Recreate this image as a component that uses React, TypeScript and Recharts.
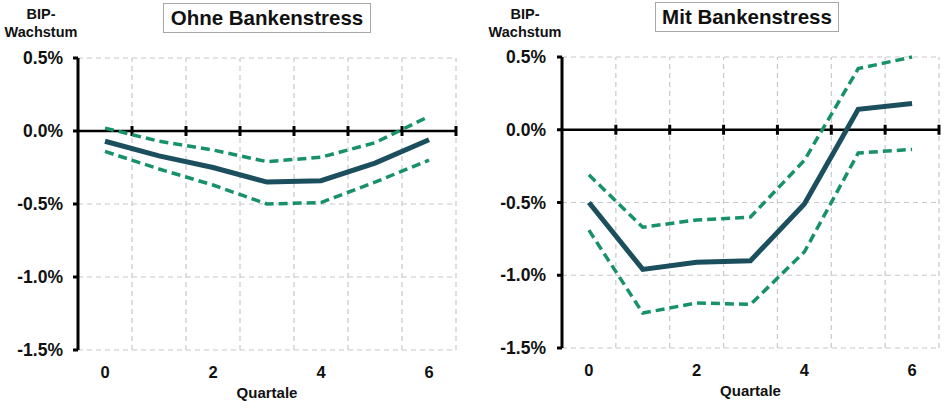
import React from 'react';
import { LineChart, Line, XAxis, YAxis, CartesianGrid, ReferenceLine, ReferenceDot } from 'recharts';

const quarters = [0, 1, 2, 3, 4, 5, 6];
const ohneMain = [-0.07, -0.17, -0.25, -0.35, -0.34, -0.22, -0.06];
const ohneUpper = [0.02, -0.07, -0.13, -0.21, -0.18, -0.08, 0.1];
const ohneLower = [-0.14, -0.26, -0.37, -0.5, -0.49, -0.35, -0.2];
const mitMain = [-0.5, -0.96, -0.91, -0.9, -0.51, 0.14, 0.18];
const mitUpper = [-0.31, -0.67, -0.62, -0.6, -0.21, 0.42, 0.5];
const mitLower = [-0.69, -1.26, -1.19, -1.2, -0.84, -0.16, -0.135];
const yTicks = [-1.5, -1.0, -0.5, 0, 0.5];
const xTicks = [0, 2, 4, 6];
const bandEdges = [0.5, 1.5, 2.5, 3.5, 4.5, 5.5, 6.5];
const titles = ['Ohne Bankenstress', 'Mit Bankenstress'];
const yLabel = ['BIP-', 'Wachstum'];
const xLabel = 'Quartale';

const MAIN = '#1c4f5e';
const BAND = '#17916a';
const FONT = '"Liberation Sans", Arial, sans-serif';

type PanelData = {
  main: number[];
  upper: number[];
  lower: number[];
};

const build = (p: PanelData) =>
  quarters.map((q, i) => ({ q, main: p.main[i], upper: p.upper[i], lower: p.lower[i] }));

const TickMark = (props: any) => {
  const { cx, cy } = props;
  if (cx == null || cy == null) return null;
  return <line x1={cx} x2={cx} y1={cy - 5} y2={cy + 5} stroke="#000" strokeWidth={3} />;
};

function Panel({ data, yAxisWidth, marginRight, marginTop, marginBottom, yTickMargin }: any) {
  return (
    <LineChart
      width={470}
      height={409}
      data={data}
      margin={{ top: marginTop, right: marginRight, bottom: marginBottom, left: 0 }}
    >
      <CartesianGrid vertical={false} stroke="#c8c8c8" strokeDasharray="5 4" strokeWidth={1.2} />
      {bandEdges.map((b) => (
        <ReferenceLine key={'g' + b} x={b} stroke="#c8c8c8" strokeDasharray="5 4" strokeWidth={1.2} zIndex={-50} />
      ))}
      <ReferenceLine y={0} stroke="#000" strokeWidth={2.5} zIndex={50} />
      {bandEdges.map((b) => (
        <ReferenceDot key={'t' + b} x={b} y={0} shape={TickMark} zIndex={50} />
      ))}
      <XAxis
        dataKey="q"
        type="number"
        domain={[-0.5, 6.5]}
        ticks={xTicks}
        axisLine={false}
        tickLine={false}
        tickMargin={10}
        height={50}
        tick={{ fontFamily: FONT, fontWeight: 700, fontSize: 16.5, fill: '#111' }}
        label={{
          value: xLabel,
          position: 'insideBottom',
          offset: 2,
          style: { fontFamily: FONT, fontWeight: 700, fontSize: 15, fill: '#111' },
        }}
      />
      <YAxis
        type="number"
        domain={[-1.5, 0.5]}
        ticks={yTicks}
        width={yAxisWidth}
        axisLine={{ stroke: '#000', strokeWidth: 3 }}
        tickLine={{ stroke: '#000', strokeWidth: 3 }}
        tickSize={5}
        tickMargin={yTickMargin}
        tickFormatter={(v: number) => v.toFixed(1) + '%'}
        tick={{ fontFamily: FONT, fontWeight: 700, fontSize: 17.5, fill: '#111' }}
      />
      <Line dataKey="upper" stroke={BAND} strokeWidth={3.5} strokeDasharray="9 5" dot={false} isAnimationActive={false} />
      <Line dataKey="lower" stroke={BAND} strokeWidth={3.5} strokeDasharray="9 5" dot={false} isAnimationActive={false} />
      <Line dataKey="main" stroke={MAIN} strokeWidth={5} dot={false} isAnimationActive={false} />
    </LineChart>
  );
}

const titleStyle = (left: number, top: number, width: number): React.CSSProperties => ({
  position: 'absolute',
  left,
  top,
  width,
  height: 30,
  boxSizing: 'border-box',
  border: '1.5px solid #a8a8a8',
  background: '#fff',
  fontFamily: FONT,
  fontWeight: 700,
  fontSize: 20.5,
  lineHeight: '28px',
  textAlign: 'center',
  color: '#111',
});

const yLabelStyle = (left: number): React.CSSProperties => ({
  position: 'absolute',
  left,
  top: 5,
  width: 90,
  fontFamily: FONT,
  fontWeight: 700,
  fontSize: 14.5,
  lineHeight: '18px',
  textAlign: 'center',
  color: '#111',
});

export default function App() {
  const ohne = build({ main: ohneMain, upper: ohneUpper, lower: ohneLower });
  const mit = build({ main: mitMain, upper: mitUpper, lower: mitLower });
  return (
    <div style={{ position: 'absolute', left: 0, top: 0, width: 945, height: 409, background: '#fff', overflow: 'hidden' }}>
      <div style={{ position: 'absolute', left: 0, top: 0 }}>
        <Panel data={ohne} yAxisWidth={78} marginRight={14} marginTop={58} marginBottom={9} yTickMargin={10} />
      </div>
      <div style={{ position: 'absolute', left: 475, top: 0 }}>
        <Panel data={mit} yAxisWidth={87} marginRight={6} marginTop={57} marginBottom={11} yTickMargin={11} />
      </div>
      <div style={yLabelStyle(-4)}>
        {yLabel[0]}
        <br />
        {yLabel[1]}
      </div>
      <div style={yLabelStyle(480)}>
        {yLabel[0]}
        <br />
        {yLabel[1]}
      </div>
      <div style={titleStyle(163, 3, 208)}>{titles[0]}</div>
      <div style={titleStyle(655, 2, 184)}>{titles[1]}</div>
    </div>
  );
}
